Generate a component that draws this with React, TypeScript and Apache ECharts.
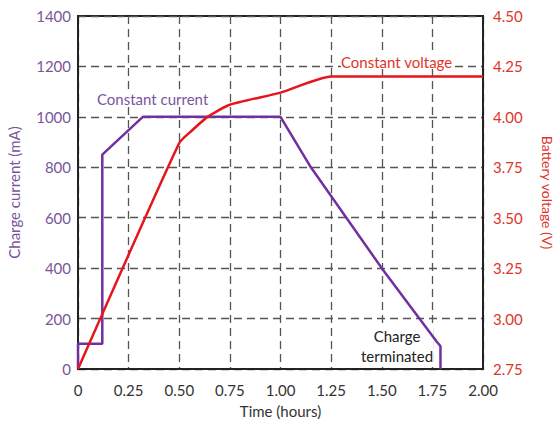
import React, { useEffect, useRef } from "react";
import * as echarts from "echarts";

const currentTime = [0, 0, 0.12, 0.12, 0.32, 1.0, 1.15, 1.5, 1.77, 1.79, 1.79];
const currentValues = [0, 100, 100, 850, 1000, 1000, 800, 400, 110, 90, 0];

const voltageTime = [0, 0.5, 0.56, 0.64, 0.75, 1.0, 1.25, 2.0];
const voltageValues = [2.75, 3.87, 3.93, 4.0, 4.06, 4.12, 4.2, 4.2];

const xTicks = [0, 0.25, 0.5, 0.75, 1.0, 1.25, 1.5, 1.75, 2.0];
const currentTicks = [0, 200, 400, 600, 800, 1000, 1200, 1400];
const voltageTicks = [2.75, 3.0, 3.25, 3.5, 3.75, 4.0, 4.25, 4.5];

const PURPLE = "#7030a0";
const PURPLE_TEXT = "#7a559c";
const RED = "#e8141c";
const RED_TEXT = "#e0352b";
const FONT = "Lato";

export default function App() {
  const ref = useRef<HTMLDivElement>(null);
  useEffect(() => {
    const chart = echarts.init(ref.current!, null, { renderer: "svg" });
    const grid = { left: 78, right: 74, top: 16, bottom: 53 };
    const gridDash = { color: "#555", width: 1.3, type: [8, 5] as any };
    chart.setOption({
      animation: false,
      textStyle: { fontFamily: FONT },
      grid: {
        ...grid,
        outerBoundsMode: "none",
        containLabel: false,
        show: true,
        borderColor: "#222",
        borderWidth: 2,
        backgroundColor: "transparent",
      },
      xAxis: {
        type: "value",
        min: xTicks[0],
        max: xTicks[xTicks.length - 1],
        interval: 0.25,
        name: "Time (hours)",
        nameLocation: "middle",
        nameGap: 34,
        nameTextStyle: { color: "#333", fontSize: 15, fontFamily: FONT },
        axisLine: { show: true, lineStyle: { color: "#222", width: 2 } },
        axisTick: { show: false },
        axisLabel: {
          color: "#333",
          fontSize: 15,
          margin: 13,
          formatter: (v: number) => (v === 0 ? "0" : v.toFixed(2)),
        },
        splitLine: { show: true, lineStyle: gridDash },
      },
      yAxis: [
        {
          type: "value",
          min: currentTicks[0],
          max: currentTicks[currentTicks.length - 1],
          interval: 200,
          name: "Charge current (mA)",
          nameLocation: "middle",
          nameGap: 57,
          nameRotate: 90,
          nameTextStyle: { color: PURPLE_TEXT, fontSize: 15, fontFamily: FONT },
          axisLine: { show: true, lineStyle: { color: "#222", width: 2 } },
          axisTick: { show: false },
          axisLabel: { color: PURPLE_TEXT, fontSize: 15, margin: 7, formatter: (v: number) => String(v) },
          splitLine: { show: true, lineStyle: gridDash },
        },
        {
          type: "value",
          min: voltageTicks[0],
          max: voltageTicks[voltageTicks.length - 1],
          interval: 0.25,
          name: "Battery voltage (V)",
          nameLocation: "middle",
          nameGap: 57,
          nameRotate: -90,
          nameTextStyle: { color: RED_TEXT, fontSize: 14, fontFamily: FONT },
          axisLine: { show: true, lineStyle: { color: "#222", width: 2 } },
          axisTick: { show: false },
          axisLabel: {
            color: RED_TEXT,
            fontSize: 15,
            margin: 10,
            formatter: (v: number) => v.toFixed(2),
          },
          splitLine: { show: false },
        },
      ],
      series: [
        {
          type: "line",
          yAxisIndex: 0,
          data: currentTime.map((t, i) => [t, currentValues[i]]),
          symbol: "none",
          lineStyle: { color: PURPLE, width: 2.5 },
          z: 3,
        },
        {
          type: "line",
          yAxisIndex: 1,
          data: voltageTime.map((t, i) => [t, voltageValues[i]]),
          symbol: "none",
          smooth: 0.2,
          lineStyle: { color: RED, width: 2.5 },
          z: 4,
        },
      ],
      graphic: [
        {
          type: "text",
          x: 97,
          y: 91,
          z: 1,
          style: {
            text: "Constant current",
            fill: PURPLE_TEXT,
            font: `15px ${FONT}`,
            backgroundColor: "#fff",
          },
        },
        {
          type: "text",
          x: 341,
          y: 54,
          z: 1,
          style: {
            text: "Constant voltage",
            fill: RED_TEXT,
            font: `15px ${FONT}`,
            backgroundColor: "#fff",
          },
        },
        {
          type: "text",
          x: 397,
          y: 326,
          z: 1,
          style: {
            text: "Charge\nterminated",
            fill: "#222",
            font: `15px ${FONT}`,
            align: "center",
            lineHeight: 20,
            backgroundColor: "#fff",
          },
        },
      ],
    });
    return () => chart.dispose();
  }, []);
  return (
    <div
      ref={ref}
      style={{ position: "fixed", left: 0, top: 0, width: 557, height: 422, background: "#fff" }}
    />
  );
}
